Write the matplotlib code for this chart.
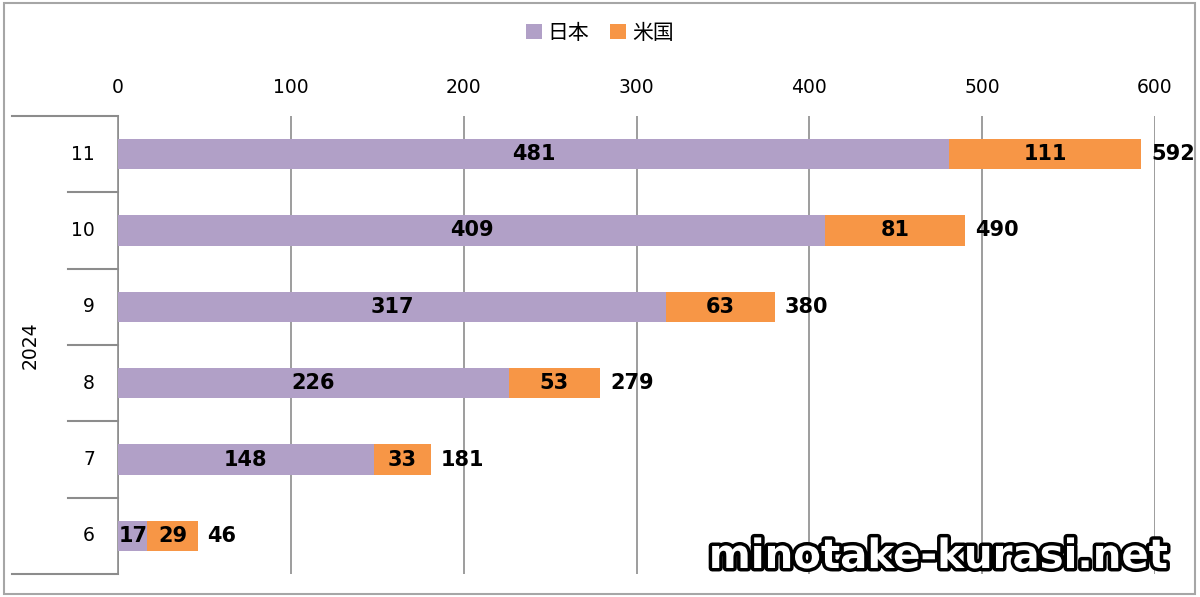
import matplotlib
matplotlib.use("Agg")
import matplotlib.pyplot as plt
import matplotlib.patheffects as pe
from matplotlib.patches import Rectangle
import numpy as np

plt.rcParams["font.family"] = ["DejaVu Sans", "Noto Sans CJK JP"]

months = ["6", "7", "8", "9", "10", "11"]
year_label = "2024"
japan = [17, 148, 226, 317, 409, 481]
usa = [29, 33, 53, 63, 81, 111]
series_names = ["日本", "米国"]
colors = ["#B1A0C7", "#F79646"]
xticks = [0, 100, 200, 300, 400, 500, 600]

fig = plt.figure(figsize=(12, 5.97), dpi=100)
ax = fig.add_axes([118 / 1200, 23 / 597, 1037 / 1200, 458 / 597])
px = 600 / 1037  # data units per pixel

y = np.arange(len(months))
japan = np.array(japan)
usa = np.array(usa)
total = japan + usa

ax.barh(y, japan, height=0.4, color=colors[0], label=series_names[0], zorder=3)
ax.barh(y, usa, left=japan, height=0.4, color=colors[1], label=series_names[1], zorder=3)

for yi, j, u, t in zip(y, japan, usa, total):
    ax.text(j / 2, yi, str(j), ha="center", va="center", fontsize=15,
            fontweight="bold", zorder=4)
    ax.text(j + u / 2, yi, str(u), ha="center", va="center", fontsize=15,
            fontweight="bold", zorder=4)
    ax.text(t + 10 * px, yi, str(t), ha="left", va="center", fontsize=15,
            fontweight="bold", zorder=4)

ax.set_xlim(0, 600)
ax.set_ylim(-0.5, len(months) - 0.5)
ax.xaxis.tick_top()
ax.set_xticks(xticks)
ax.tick_params(axis="x", length=0, labelsize=13.5, pad=14)
ax.set_yticks([])
ax.grid(axis="x", color="#8C8C8C", linewidth=1.2, zorder=1)
for s in ["top", "right", "bottom"]:
    ax.spines[s].set_visible(False)
ax.spines["left"].set_color("#8C8C8C")
ax.spines["left"].set_linewidth(1.2)

# category labels and separators
for yi, m in zip(y, months):
    ax.text(-23 * px, yi, m, ha="right", va="center", fontsize=13.5)
for b in np.arange(len(months) + 1) - 0.5:
    outer = b in (-0.5, len(months) - 0.5)
    x0 = -106 * px if outer else -50 * px
    ax.plot([x0, 0], [b, b], color="#8C8C8C", linewidth=1.5,
            clip_on=False, zorder=2)
ax.text(-88 * px, (len(months) - 1) / 2, year_label, rotation=90,
        ha="center", va="center", fontsize=13.5)

fig.legend(loc="center", bbox_to_anchor=(0.5, 1 - 33 / 597), ncol=2,
           frameon=False, handlelength=0.75, handleheight=0.75,
           handletextpad=0.3, columnspacing=1.0,
           prop={"family": ["Noto Sans CJK JP"], "size": 15})

fig.patches.append(Rectangle((4 / 1200, 3 / 597), 1191 / 1200, 591 / 597,
                             transform=fig.transFigure, fill=False,
                             edgecolor="#A6A6A6", linewidth=1.5))

fig.text(938 / 1200, 1 - 557 / 597, "minotake-kurasi.net", ha="center",
         va="center", fontsize=29, fontweight="bold", color="white",
         path_effects=[pe.withStroke(linewidth=5, foreground="black")],
         zorder=10)

fig.savefig("out.png", dpi=100, facecolor="white")
